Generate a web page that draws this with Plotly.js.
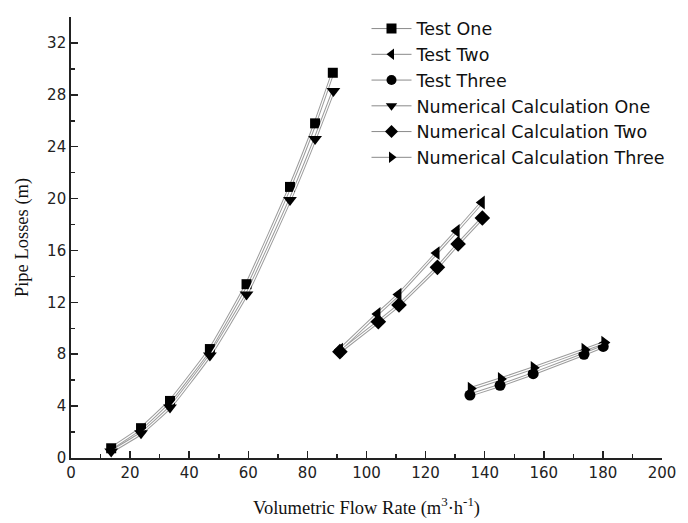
<!DOCTYPE html>
<html>
<head>
<meta charset="utf-8">
<script src="https://cdn.plot.ly/plotly-3.0.1.min.js"></script>
<style>html,body{margin:0;padding:0;background:#fff;}#chart{width:688px;height:523px;}</style>
</head>
<body>
<div id="chart"></div>
<script>
// Data
const names = ["Test One", "Test Two", "Test Three",
  "Numerical Calculation One", "Numerical Calculation Two", "Numerical Calculation Three"];

const testOneX = [13.6, 23.7, 33.5, 47.0, 59.4, 74.1, 82.6, 88.6];
const testOneY = [0.75, 2.3, 4.4, 8.4, 13.4, 20.9, 25.8, 29.7];
const calcOneX = [13.6, 23.7, 33.5, 47.0, 59.4, 74.1, 82.6, 88.8];
const calcOneY = [0.5, 1.9, 3.9, 7.9, 12.6, 19.9, 24.6, 28.3];

const testTwoX = [91.0, 103.7, 110.8, 123.7, 130.5, 139.0];
const testTwoY = [8.35, 11.1, 12.6, 15.8, 17.5, 19.7];
const calcTwoX = [91.0, 104.0, 111.0, 124.0, 131.0, 139.2];
const calcTwoY = [8.2, 10.5, 11.8, 14.7, 16.5, 18.5];

const testThreeX = [135.0, 145.2, 156.4, 173.6, 180.1];
const testThreeY = [4.85, 5.6, 6.5, 8.0, 8.6];
const calcThreeX = [135.3, 145.5, 156.6, 173.8, 180.5];
const calcThreeY = [5.35, 6.1, 6.95, 8.35, 8.9];

const xTickVals = [0, 20, 40, 60, 80, 100, 120, 140, 160, 180, 200];
const yTickVals = [0, 4, 8, 12, 16, 20, 24, 28, 32];

const series = [
  {x: testOneX, y: testOneY, symbol: "square", size: 10},
  {x: testTwoX, y: testTwoY, symbol: "triangle-left", size: 12},
  {x: testThreeX, y: testThreeY, symbol: "circle", size: 11},
  {x: calcOneX, y: calcOneY, symbol: "triangle-down", size: 12},
  {x: calcTwoX, y: calcTwoY, symbol: "diamond", size: 12},
  {x: calcThreeX, y: calcThreeY, symbol: "triangle-right", size: 12}
];

const traces = [];
// Outer gray line (hollow line effect)
series.forEach(s => traces.push({
  x: s.x, y: s.y, type: "scatter", mode: "lines", showlegend: false, hoverinfo: "skip",
  line: {color: "#9c9c9c", width: 3.2, shape: "spline", smoothing: 0.4}
}));
// White inner line + markers
series.forEach((s, i) => traces.push({
  x: s.x, y: s.y, type: "scatter", mode: "lines+markers", showlegend: false, name: names[i],
  line: {color: "#ffffff", width: 1.2, shape: "spline", smoothing: 0.4},
  marker: {symbol: s.symbol, size: s.size, color: "#000000"}
}));
// Legend entries
series.forEach((s, i) => traces.push({
  x: [null], y: [null], type: "scatter", mode: "lines+markers", name: names[i],
  line: {color: "#8a8a8a", width: 1},
  marker: {symbol: s.symbol, size: Math.min(s.size, 10), color: "#000000"}
}));

const axisCommon = {
  showline: true, linecolor: "#222", linewidth: 1.8, mirror: false,
  ticks: "inside", ticklen: 7, tickwidth: 1.5, tickcolor: "#222",
  showgrid: false, zeroline: false,
  tickfont: {family: "DejaVu Sans, Arial, sans-serif", size: 15, color: "#222"}
};

const layout = {
  width: 688, height: 523,
  margin: {l: 71, r: 26, t: 16, b: 65},
  paper_bgcolor: "#ffffff", plot_bgcolor: "#ffffff",
  showlegend: true,
  legend: {
    x: 0.5, y: 1.012, xanchor: "left", yanchor: "top",
    bgcolor: "rgba(0,0,0,0)", borderwidth: 0, itemwidth: 40,
    font: {family: "DejaVu Sans, Arial, sans-serif", size: 17.5, color: "#111"},
    tracegroupgap: 0
  },
  xaxis: Object.assign({}, axisCommon, {
    range: [0, 200], tickvals: xTickVals, ticktext: xTickVals.map(String),
    minor: {dtick: 10, ticks: "inside", ticklen: 4, tickwidth: 1.5, tickcolor: "#222"},
    title: {text: "Volumetric Flow Rate (m<sup>3</sup>·h<sup>-1</sup>)", standoff: 20,
      font: {family: "Liberation Serif, Times New Roman, serif", size: 18.5, color: "#111"}}
  }),
  yaxis: Object.assign({}, axisCommon, {
    range: [0, 34], tickvals: yTickVals, ticktext: yTickVals.map(String),
    minor: {dtick: 2, ticks: "inside", ticklen: 4, tickwidth: 1.5, tickcolor: "#222"},
    title: {text: "Pipe Losses (m)", standoff: 14,
      font: {family: "Liberation Serif, Times New Roman, serif", size: 18.5, color: "#111"}}
  })
};

Plotly.newPlot("chart", traces, layout, {displayModeBar: false, staticPlot: true});
</script>
</body>
</html>
